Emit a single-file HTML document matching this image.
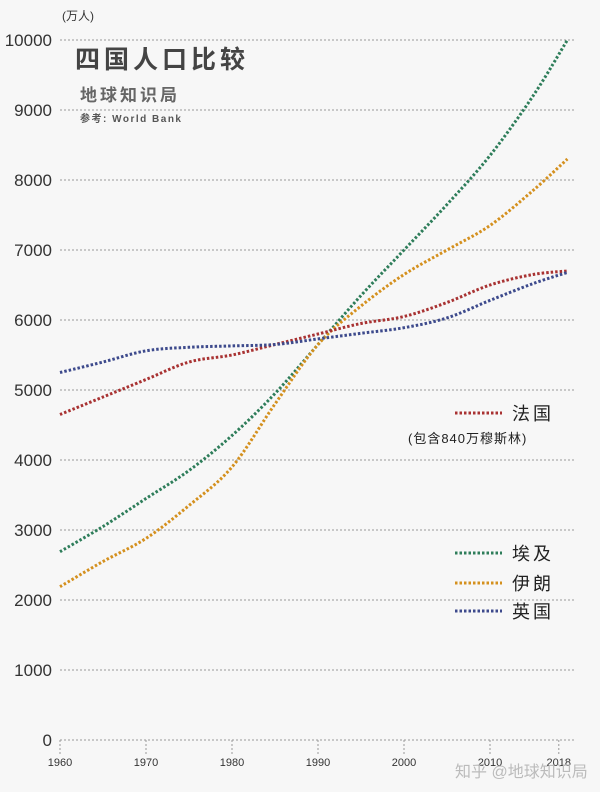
<!DOCTYPE html>
<html><head><meta charset="utf-8"><style>
body{margin:0;background:#f7f7f7;}
svg{display:block;font-family:"Liberation Sans","Noto Sans CJK SC",sans-serif;}
</style></head><body>
<svg id="c" width="600" height="792">
<rect width="600" height="792" fill="#f7f7f7"/>
<g id="grid"></g>
<g id="lines"></g>
<text x="62" y="20" font-size="12" fill="#333">(万人)</text>
<text x="75" y="68" font-size="25" font-weight="bold" fill="#444" letter-spacing="4">四国人口比较</text>
<text x="80" y="101" font-size="17" font-weight="bold" fill="#666" letter-spacing="3">地球知识局</text>
<text x="80" y="122" font-size="10" font-weight="bold" fill="#555" letter-spacing="1.5">参考: World Bank</text>
<g id="legend"></g>
<text x="408" y="443" font-size="13" fill="#222" letter-spacing="1">(包含840万穆斯林)</text>
<text x="455" y="777" font-size="16" fill="#bbb">知乎 @地球知识局</text>
</svg>
<script>
const years=[1960,1965,1970,1975,1980,1985,1990,1995,2000,2005,2010,2015,2019];
const egypt=[2690,3050,3450,3850,4350,4950,5650,6350,7000,7650,8350,9200,10000];
const iran=[2190,2550,2880,3350,3900,4800,5650,6200,6650,7000,7350,7850,8300];
const france=[4650,4900,5150,5400,5500,5650,5800,5950,6050,6250,6500,6650,6700];
const uk=[5250,5400,5560,5610,5630,5650,5730,5810,5890,6030,6280,6520,6680];
const yTicks=[0,1000,2000,3000,4000,5000,6000,7000,8000,9000,10000];
const xTicks=[1960,1970,1980,1990,2000,2010,2018];
const NS="http://www.w3.org/2000/svg";
const x=v=>60+(v-1960)*8.6;
const y=v=>740-v*0.07;
function mk(t,a,p){const e=document.createElementNS(NS,t);for(const k in a)e.setAttribute(k,a[k]);p.appendChild(e);return e;}
const g=document.getElementById('grid');
yTicks.forEach(v=>{
 const l=mk('line',{x1:60,x2:575,y1:y(v),y2:y(v),stroke:'#999','stroke-width':1,'stroke-dasharray':'2,2'},g);
 
 
 const t=mk('text',{x:52,y:y(v)+6,'text-anchor':'end','font-size':17,fill:'#333'},g);
 t.textContent=v;
 
 
});
xTicks.forEach(v=>{
 const l=mk('line',{x1:x(v),x2:x(v),y1:740,y2:754,stroke:'#999','stroke-width':1,'stroke-dasharray':'2,2'},g);
 
 
 const t=mk('text',{x:x(v),y:766,'text-anchor':'middle','font-size':11,fill:'#333'},g);
 t.textContent=v;
 
 
});
const series=[[egypt,'#2e7d5a','egypt-line'],[iran,'#d4901e','iran-line'],[france,'#a83232','france-line'],[uk,'#3d4a8c','uk-line']];
const L=document.getElementById('lines');
series.forEach(([d,c,n])=>{
 const P=d.map((v,i)=>[x(years[i]),y(v)]);
 let p='M'+P[0][0]+','+P[0][1];
 for(let i=0;i<P.length-1;i++){
  const p0=P[Math.max(0,i-1)],p1=P[i],p2=P[i+1],p3=P[Math.min(P.length-1,i+2)];
  const c1=[p1[0]+(p2[0]-p0[0])/6,p1[1]+(p2[1]-p0[1])/6];
  const c2=[p2[0]-(p3[0]-p1[0])/6,p2[1]-(p3[1]-p1[1])/6];
  p+=` C${c1[0]},${c1[1]} ${c2[0]},${c2[1]} ${p2[0]},${p2[1]}`;
 }
 const e=mk('path',{d:p,fill:'none',stroke:c,'stroke-width':3,'stroke-dasharray':'2.5,2'},L);
 
 
});
const lg=document.getElementById('legend');
[['法国','#a83232',413],['埃及','#2e7d5a',553],['伊朗','#d4901e',583],['英国','#3d4a8c',611]].forEach(([t,c,yy])=>{
 const l=mk('line',{x1:455,x2:502,y1:yy,y2:yy,stroke:c,'stroke-width':3,'stroke-dasharray':'2.5,2'},lg);
 
 
 const tx=mk('text',{x:512,y:yy+7,'font-size':18,fill:'#222','letter-spacing':3},lg);
 tx.textContent=t;
 
 
});
</script>
</body></html>
